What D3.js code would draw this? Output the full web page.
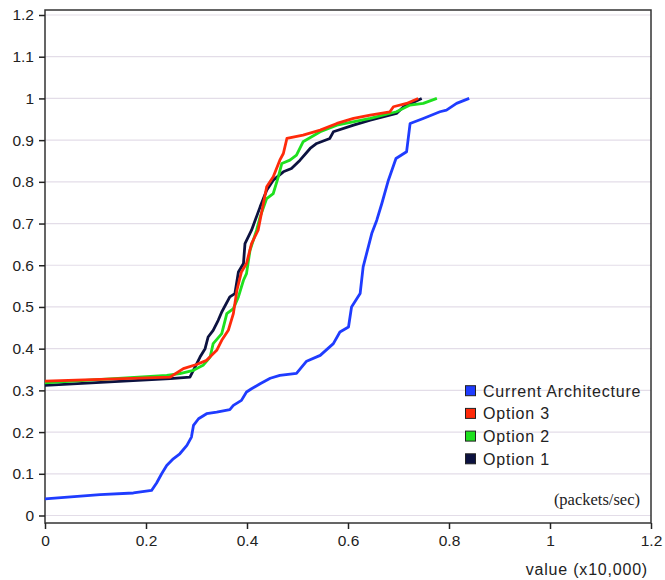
<!DOCTYPE html>
<html>
<head>
<meta charset="utf-8">
<script src="https://cdn.jsdelivr.net/npm/d3@7"></script>
<style>
  body { margin: 0; background: #fff; }
  text { font-family: "Liberation Sans", Arial, sans-serif; fill: #222; }
</style>
</head>
<body>
<div id="chart"></div>
<script>
const width = 665
const height = 580

// series (x in units of 10,000 packets/sec, y cumulative fraction)
const option1X = [0, 0.248, 0.287, 0.297, 0.307, 0.317, 0.323, 0.333, 0.343, 0.35, 0.366, 0.376, 0.383, 0.393, 0.396, 0.409, 0.426, 0.439, 0.452, 0.472, 0.488, 0.505, 0.525, 0.538, 0.564, 0.571, 0.611, 0.644, 0.696, 0.71, 0.746]
const option1Y = [0.312, 0.328, 0.332, 0.356, 0.38, 0.4, 0.428, 0.444, 0.468, 0.488, 0.524, 0.532, 0.584, 0.604, 0.652, 0.684, 0.74, 0.78, 0.804, 0.824, 0.832, 0.852, 0.88, 0.892, 0.904, 0.92, 0.936, 0.948, 0.964, 0.98, 1.0]

const option2X = [0, 0.241, 0.267, 0.294, 0.313, 0.327, 0.333, 0.35, 0.36, 0.373, 0.383, 0.393, 0.399, 0.406, 0.419, 0.426, 0.439, 0.452, 0.462, 0.469, 0.485, 0.498, 0.511, 0.545, 0.578, 0.644, 0.696, 0.723, 0.749, 0.776]
const option2Y = [0.318, 0.336, 0.34, 0.348, 0.36, 0.38, 0.412, 0.436, 0.484, 0.496, 0.524, 0.564, 0.58, 0.636, 0.684, 0.716, 0.76, 0.772, 0.812, 0.844, 0.852, 0.864, 0.896, 0.92, 0.936, 0.952, 0.968, 0.984, 0.988, 1.0]

const option3X = [0, 0.248, 0.274, 0.3, 0.32, 0.34, 0.35, 0.363, 0.373, 0.38, 0.389, 0.399, 0.409, 0.422, 0.439, 0.452, 0.465, 0.472, 0.479, 0.511, 0.545, 0.578, 0.611, 0.644, 0.683, 0.69, 0.716, 0.739]
const option3Y = [0.322, 0.332, 0.352, 0.362, 0.372, 0.396, 0.42, 0.444, 0.484, 0.54, 0.584, 0.604, 0.652, 0.684, 0.788, 0.812, 0.852, 0.868, 0.904, 0.912, 0.924, 0.94, 0.952, 0.96, 0.968, 0.98, 0.988, 1.0]

const currentX = [0, 0.109, 0.175, 0.211, 0.221, 0.231, 0.241, 0.254, 0.267, 0.281, 0.29, 0.294, 0.304, 0.32, 0.34, 0.366, 0.373, 0.389, 0.399, 0.409, 0.426, 0.446, 0.465, 0.498, 0.518, 0.545, 0.571, 0.584, 0.601, 0.607, 0.624, 0.63, 0.647, 0.657, 0.667, 0.68, 0.695, 0.716, 0.723, 0.749, 0.782, 0.795, 0.815, 0.84]
const currentY = [0.04, 0.05, 0.054, 0.06, 0.078, 0.1, 0.12, 0.136, 0.148, 0.168, 0.188, 0.216, 0.232, 0.244, 0.248, 0.254, 0.264, 0.276, 0.296, 0.304, 0.316, 0.329, 0.336, 0.341, 0.37, 0.384, 0.412, 0.44, 0.452, 0.5, 0.532, 0.596, 0.676, 0.708, 0.748, 0.804, 0.856, 0.872, 0.94, 0.952, 0.968, 0.972, 0.988, 1.0]

const seriesNames = ["Option 1", "Option 2", "Option 3", "Current Architecture"]
const seriesColors = ["#0c1240", "#1ee01e", "#ff2a0a", "#1f3cff"]
const xTicks = [0, 0.2, 0.4, 0.6, 0.8, 1, 1.2]
const yTicks = [0, 0.1, 0.2, 0.3, 0.4, 0.5, 0.6, 0.7, 0.8, 0.9, 1, 1.1, 1.2]

const series = [
  {name: seriesNames[0], color: seriesColors[0], values: option1X.map((d, i) => [d, option1Y[i]])},
  {name: seriesNames[1], color: seriesColors[1], values: option2X.map((d, i) => [d, option2Y[i]])},
  {name: seriesNames[2], color: seriesColors[2], values: option3X.map((d, i) => [d, option3Y[i]])},
  {name: seriesNames[3], color: seriesColors[3], values: currentX.map((d, i) => [d, currentY[i]])},
]

const plot = {left: 45, right: 651, top: 10, bottom: 523}

const svg = d3.select("#chart")
  .append("svg")
  .attr("width", width)
  .attr("height", height)

// escalas
const x = d3.scaleLinear().domain([0, 1.2]).range([plot.left, plot.right])
const y = d3.scaleLinear().domain([0, 1.2]).range([515.5, 15])

// gridlines
svg.append("g")
  .selectAll("line")
  .data(yTicks)
  .enter()
  .append("line")
  .attr("x1", plot.left)
  .attr("x2", plot.right)
  .attr("y1", d => y(d))
  .attr("y2", d => y(d))
  .attr("stroke", "#e3dde8")
  .attr("stroke-width", 1.2)

// marco
svg.append("rect")
  .attr("x", plot.left)
  .attr("y", plot.top)
  .attr("width", plot.right - plot.left)
  .attr("height", plot.bottom - plot.top)
  .attr("fill", "none")
  .attr("stroke", "#333")
  .attr("stroke-width", 1.5)

// ejes
const yAxisGroup = svg.append("g")
  .attr("transform", `translate(${plot.left}, 0)`)
  .call(d3.axisLeft(y).tickValues(yTicks).tickSize(6).tickSizeOuter(0).tickPadding(5).tickFormat(d3.format("")))
const xAxisGroup = svg.append("g")
  .attr("transform", `translate(0, ${plot.bottom})`)
  .call(d3.axisBottom(x).tickValues(xTicks).tickSize(6).tickSizeOuter(0).tickPadding(6).tickFormat(d3.format("")))

svg.selectAll(".domain").remove()
svg.selectAll(".tick line").attr("stroke", "#222").attr("stroke-width", 1.5)
svg.selectAll(".tick text")
  .attr("font-family", "Liberation Sans, Arial, sans-serif")
  .attr("font-size", 15.5)
  .attr("fill", "#222")

// lineas
const line = d3.line().x(d => x(d[0])).y(d => y(d[1]))
svg.append("g")
  .selectAll("path")
  .data(series)
  .enter()
  .append("path")
  .attr("d", d => line(d.values))
  .attr("fill", "none")
  .attr("stroke", d => d.color)
  .attr("stroke-width", 2.8)
  .attr("stroke-linejoin", "round")

// leyenda
const legend = svg.append("g")
const legendItems = legend.selectAll("g")
  .data(series.slice().reverse())
  .enter()
  .append("g")
  .attr("transform", (d, i) => `translate(465, ${390.7 + i * 22.7})`)
legendItems.append("rect")
  .attr("x", 0.5)
  .attr("y", -5)
  .attr("width", 10)
  .attr("height", 10)
  .attr("fill", d => d.color)
  .attr("stroke", "#222")
  .attr("stroke-width", 1)
legendItems.append("text")
  .attr("x", 18)
  .attr("y", 6)
  .attr("font-size", 16)
  .attr("letter-spacing", 0.8)
  .text(d => d.name)

svg.append("text")
  .attr("x", 640)
  .attr("y", 505)
  .attr("text-anchor", "end")
  .style("font-family", "Liberation Serif, Times New Roman, serif")
  .attr("font-size", 16.5)
  .text("(packets/sec)")

svg.append("text")
  .attr("x", 648)
  .attr("y", 575)
  .attr("text-anchor", "end")
  .attr("font-size", 16)
  .attr("letter-spacing", 0.8)
  .text("value (x10,000)")
</script>
</body>
</html>
